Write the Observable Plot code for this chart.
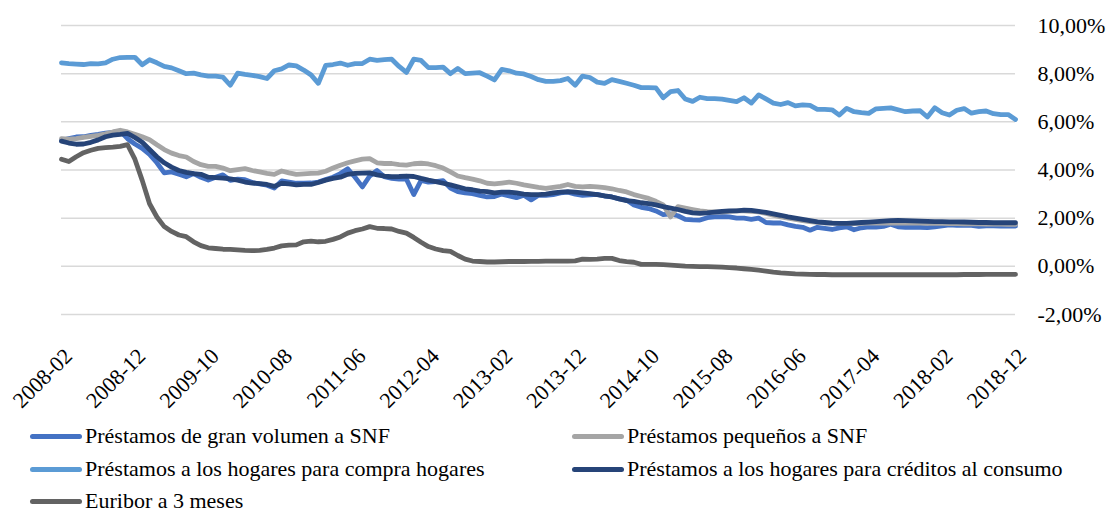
<!DOCTYPE html>
<html><head><meta charset="utf-8">
<script src="https://cdn.jsdelivr.net/npm/d3@7"></script>
<script src="https://cdn.jsdelivr.net/npm/@observablehq/plot@0.6"></script>
<style>
body{margin:0;background:#fff;font-family:"Liberation Serif","Tinos","Times New Roman","DejaVu Serif",serif;}
#wrap{position:relative;width:1113px;height:513px;overflow:hidden;}
#legend{position:absolute;left:0;top:0;width:1113px;height:513px;pointer-events:none;}
.item{position:absolute;display:flex;align-items:center;font-family:"Liberation Serif","Tinos","Times New Roman","DejaVu Serif",serif;font-size:22px;line-height:20px;color:#000;white-space:nowrap;transform:translateY(-50%);}
.sw{width:52px;height:5px;border-radius:3px;margin-right:3px;}
</style></head><body>
<div id="wrap"><div id="chart"></div><div id="legend"></div></div>
<script>
// Categories: monthly, 2008-02 .. 2018-12 (131 months)
const months = d3.utcMonths(new Date(Date.UTC(2008,1,1)), new Date(Date.UTC(2019,0,1))).map(d3.utcFormat("%Y-%m"));
const tickLabels = ["2008-02","2008-12","2009-10","2010-08","2011-06","2012-04","2013-02","2013-12","2014-10","2015-08","2016-06","2017-04","2018-02","2018-12"];
const yTicks = [-2,0,2,4,6,8,10];

const seriesNames = [
  "Préstamos de gran volumen a SNF",
  "Préstamos pequeños a SNF",
  "Préstamos a los hogares para compra hogares",
  "Préstamos a los hogares para créditos al consumo",
  "Euribor a 3 meses"
];
const seriesColors = ["#4472C4","#A5A5A5","#5B9BD5","#264478","#636363"];

const granVolumen = [
  5.23,5.30,5.37,5.38,5.44,5.48,5.53,5.56,5.62,5.30,
  5.08,4.90,4.65,4.30,3.88,3.92,3.82,3.72,3.85,3.70,
  3.58,3.70,3.80,3.57,3.62,3.60,3.48,3.42,3.37,3.25,
  3.55,3.50,3.45,3.45,3.46,3.50,3.60,3.70,3.85,4.05,
  3.70,3.30,3.75,3.98,3.72,3.65,3.62,3.62,2.98,3.57,
  3.50,3.52,3.56,3.25,3.10,3.05,3.02,2.95,2.88,2.90,
  3.00,2.92,2.85,2.95,2.76,2.95,2.95,2.98,3.05,3.08,
  3.00,2.95,2.97,2.99,2.92,2.88,2.80,2.75,2.55,2.45,
  2.40,2.30,2.15,2.18,2.10,1.95,1.93,1.92,2.02,2.05,
  2.07,2.05,2.00,2.00,1.95,2.00,1.82,1.80,1.80,1.72,
  1.66,1.62,1.50,1.62,1.58,1.53,1.60,1.64,1.52,1.60,
  1.64,1.63,1.66,1.75,1.64,1.62,1.62,1.62,1.61,1.64,
  1.68,1.72,1.70,1.71,1.70,1.66,1.68,1.68,1.67,1.67,
  1.67
];
const pequenos = [
  5.30,5.28,5.30,5.35,5.40,5.44,5.50,5.58,5.65,5.58,
  5.48,5.38,5.26,5.05,4.85,4.70,4.60,4.54,4.35,4.22,
  4.15,4.15,4.08,3.97,4.02,4.06,3.98,3.92,3.86,3.82,
  3.96,3.88,3.82,3.84,3.86,3.87,3.95,4.08,4.20,4.30,
  4.38,4.45,4.47,4.30,4.27,4.27,4.22,4.20,4.26,4.28,
  4.25,4.18,4.08,3.92,3.75,3.68,3.62,3.55,3.45,3.42,
  3.46,3.50,3.45,3.38,3.33,3.28,3.24,3.28,3.32,3.40,
  3.32,3.30,3.32,3.30,3.27,3.22,3.15,3.09,2.98,2.90,
  2.82,2.70,2.55,2.05,2.48,2.42,2.36,2.30,2.27,2.26,
  2.25,2.28,2.30,2.30,2.28,2.26,2.20,2.12,2.05,2.00,
  1.95,1.90,1.86,1.83,1.80,1.79,1.78,1.77,1.77,1.78,
  1.79,1.80,1.80,1.81,1.80,1.80,1.79,1.79,1.78,1.78,
  1.78,1.77,1.77,1.76,1.76,1.76,1.75,1.75,1.75,1.74,
  1.74
];
const hogaresCompra = [
  8.45,8.42,8.40,8.38,8.42,8.41,8.45,8.60,8.67,8.68,
  8.68,8.37,8.58,8.45,8.30,8.24,8.12,8.00,8.02,7.95,
  7.90,7.90,7.86,7.52,8.02,7.97,7.93,7.88,7.80,8.12,
  8.20,8.36,8.32,8.15,7.95,7.60,8.34,8.38,8.44,8.35,
  8.42,8.42,8.60,8.55,8.58,8.60,8.30,8.05,8.60,8.55,
  8.25,8.25,8.27,8.00,8.22,8.00,8.02,8.04,7.90,7.74,
  8.18,8.12,8.02,7.99,7.88,7.75,7.68,7.68,7.71,7.80,
  7.52,7.90,7.84,7.65,7.60,7.75,7.68,7.60,7.52,7.42,
  7.42,7.41,7.00,7.25,7.30,6.95,6.85,7.02,6.96,6.96,
  6.94,6.89,6.84,7.00,6.78,7.12,6.95,6.78,6.72,6.80,
  6.66,6.70,6.68,6.52,6.52,6.50,6.28,6.56,6.42,6.38,
  6.35,6.54,6.56,6.58,6.50,6.42,6.45,6.46,6.20,6.58,
  6.38,6.28,6.48,6.55,6.36,6.42,6.45,6.34,6.30,6.30,
  6.10
];
const consumo = [
  5.20,5.12,5.07,5.08,5.15,5.25,5.38,5.45,5.48,5.52,
  5.35,5.15,4.85,4.55,4.30,4.12,3.98,3.90,3.85,3.82,
  3.70,3.68,3.66,3.63,3.58,3.50,3.46,3.43,3.40,3.32,
  3.45,3.42,3.38,3.40,3.40,3.48,3.58,3.65,3.70,3.82,
  3.86,3.87,3.88,3.80,3.75,3.72,3.73,3.75,3.73,3.65,
  3.58,3.52,3.45,3.38,3.30,3.22,3.18,3.12,3.10,3.05,
  3.08,3.08,3.05,3.00,2.98,2.98,3.00,3.05,3.08,3.10,
  3.08,3.05,3.02,2.98,2.93,2.88,2.80,2.73,2.70,2.64,
  2.60,2.55,2.48,2.42,2.36,2.28,2.22,2.20,2.22,2.25,
  2.28,2.30,2.30,2.33,2.32,2.28,2.24,2.18,2.12,2.05,
  2.00,1.95,1.90,1.85,1.82,1.79,1.78,1.78,1.80,1.82,
  1.84,1.86,1.88,1.90,1.91,1.90,1.89,1.88,1.87,1.86,
  1.86,1.85,1.85,1.84,1.83,1.82,1.82,1.81,1.81,1.81,
  1.81
];
const euribor = [
  4.45,4.35,4.55,4.72,4.82,4.90,4.93,4.95,4.98,5.05,
  4.45,3.57,2.60,2.05,1.65,1.45,1.30,1.23,1.02,0.86,
  0.77,0.74,0.71,0.70,0.68,0.66,0.65,0.66,0.70,0.76,
  0.85,0.88,0.89,1.02,1.05,1.02,1.04,1.12,1.22,1.38,
  1.48,1.55,1.65,1.58,1.57,1.55,1.45,1.38,1.20,1.00,
  0.82,0.72,0.65,0.62,0.45,0.30,0.22,0.20,0.18,0.18,
  0.19,0.20,0.21,0.20,0.21,0.21,0.22,0.22,0.22,0.22,
  0.23,0.30,0.29,0.30,0.33,0.33,0.24,0.20,0.17,0.08,
  0.08,0.08,0.07,0.05,0.03,0.01,0.00,-0.01,-0.01,-0.02,
  -0.03,-0.05,-0.07,-0.10,-0.13,-0.16,-0.20,-0.24,-0.27,-0.29,
  -0.31,-0.32,-0.33,-0.34,-0.34,-0.35,-0.35,-0.35,-0.35,-0.35,
  -0.35,-0.35,-0.35,-0.35,-0.35,-0.35,-0.35,-0.35,-0.35,-0.35,
  -0.35,-0.35,-0.35,-0.34,-0.34,-0.34,-0.33,-0.33,-0.33,-0.33,
  -0.33
];

const seriesValues = [granVolumen, pequenos, hogaresCompra, consumo, euribor];
const rows = seriesValues.flatMap((vals, s) =>
  vals.map((v, i) => ({month: months[i], value: v, serie: seriesNames[s]})));

const fmt = d => d.toFixed(2).replace(".", ",") + "%";
const FONT = '"Liberation Serif","Tinos","Times New Roman","DejaVu Serif",serif';

const chart = Plot.plot({
  width: 1113, height: 420,
  marginLeft: 61, marginRight: 98, marginTop: 25, marginBottom: 106,
  style: {fontFamily: FONT, fontSize: "22px", color: "#000", background: "#fff"},
  x: {type: "point", domain: months, padding: 0},
  y: {domain: [-2, 10]},
  color: {domain: seriesNames, range: seriesColors},
  marks: [
    Plot.gridY(yTicks, {stroke: "#d9d9d9", strokeOpacity: 1, strokeWidth: 1.5}),
    Plot.axisY(yTicks, {anchor: "right", tickSize: 0, tickPadding: 22, tickFormat: fmt, label: null, fontSize: 22, textAnchor: "start", fontFamily: FONT}),
    Plot.axisX(tickLabels, {anchor: "bottom", tickSize: 0, tickPadding: 38, dx: 7, tickRotate: -45, label: null, fontSize: 22, fontFamily: FONT}),
    ...seriesNames.map(name => Plot.line(rows.filter(r => r.serie === name), {
      x: "month", y: "value", stroke: "serie", strokeWidth: 4.8, strokeLinejoin: "round", strokeLinecap: "round"
    }))
  ]
});
document.getElementById("chart").appendChild(chart);

// Legend (HTML, below the SVG)
const legendPos = [
  {x: 30, y: 436}, {x: 572, y: 436},
  {x: 30, y: 469}, {x: 572, y: 469},
  {x: 30, y: 501}
];
const legend = document.getElementById("legend");
seriesNames.forEach((name, i) => {
  const it = document.createElement("div");
  it.className = "item";
  it.style.left = legendPos[i].x + "px";
  it.style.top = legendPos[i].y + "px";
  const sw = document.createElement("span");
  sw.className = "sw";
  sw.style.background = seriesColors[i];
  it.appendChild(sw);
  it.appendChild(document.createTextNode(name));
  legend.appendChild(it);
});
</script></body></html>
